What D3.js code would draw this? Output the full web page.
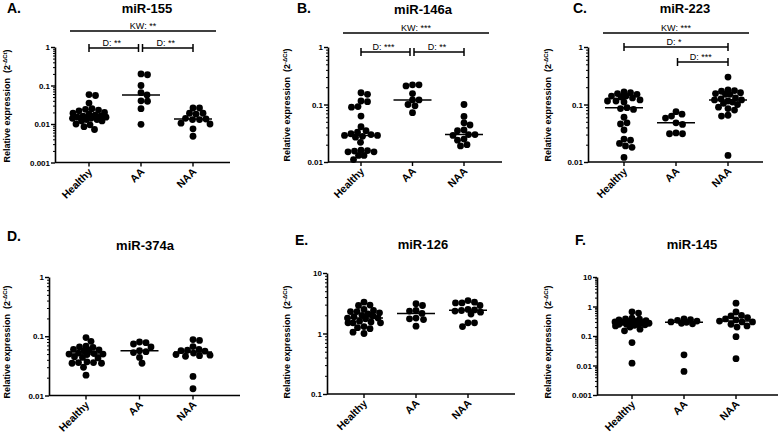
<!DOCTYPE html>
<html lang="en">
<head>
<meta charset="utf-8">
<script src="https://cdn.jsdelivr.net/npm/d3@7"></script>
<style>
  body { margin: 0; background: #fff; }
  svg { font-family: "Liberation Sans", Arial, sans-serif; }
  text { fill: #000; }
</style>
</head>
<body>
<div id="chart"></div>
<script>
const groups = ["Healthy", "AA", "NAA"];

// values (2^-dCt)
const mir155Healthy = [0.058, 0.055, 0.035, 0.025, 0.024, 0.023, 0.022, 0.020, 0.019, 0.018, 0.017, 0.016, 0.016, 0.015, 0.015, 0.014, 0.014, 0.013, 0.013, 0.012, 0.012, 0.010, 0.0095, 0.0085, 0.0072];
const mir155AA = [0.2, 0.19, 0.1, 0.065, 0.057, 0.04, 0.039, 0.025, 0.0098];
const mir155NAA = [0.026, 0.026, 0.019, 0.018, 0.019, 0.013, 0.0135, 0.013, 0.014, 0.0105, 0.010, 0.0075, 0.0048];

const mir146Healthy = [0.16, 0.15, 0.115, 0.112, 0.092, 0.09, 0.063, 0.041, 0.035, 0.033, 0.031, 0.030, 0.029, 0.029, 0.028, 0.027, 0.022, 0.016, 0.0158, 0.0155, 0.015, 0.015, 0.013, 0.013, 0.011];
const mir146AA = [0.22, 0.21, 0.22, 0.155, 0.12, 0.12, 0.1, 0.095, 0.072];
const mir146NAA = [0.1, 0.062, 0.048, 0.044, 0.036, 0.035, 0.030, 0.030, 0.029, 0.025, 0.024, 0.020, 0.019];

const mir223Healthy = [0.165, 0.16, 0.155, 0.15, 0.14, 0.14, 0.135, 0.13, 0.12, 0.115, 0.115, 0.11, 0.088, 0.085, 0.082, 0.06, 0.048, 0.046, 0.036, 0.025, 0.024, 0.021, 0.019, 0.018, 0.012];
const mir223AA = [0.075, 0.068, 0.063, 0.058, 0.048, 0.045, 0.032, 0.031, 0.031];
const mir223NAA = [0.3, 0.18, 0.175, 0.17, 0.16, 0.155, 0.15, 0.15, 0.13, 0.125, 0.12, 0.12, 0.115, 0.11, 0.105, 0.1, 0.09, 0.085, 0.08, 0.065, 0.063, 0.013];

const mir374Healthy = [0.095, 0.082, 0.068, 0.066, 0.065, 0.06, 0.059, 0.058, 0.057, 0.052, 0.051, 0.05, 0.05, 0.049, 0.045, 0.044, 0.043, 0.037, 0.036, 0.036, 0.035, 0.035, 0.030, 0.022];
const mir374AA = [0.08, 0.078, 0.074, 0.066, 0.057, 0.055, 0.053, 0.044, 0.035];
const mir374NAA = [0.088, 0.085, 0.067, 0.06, 0.058, 0.057, 0.056, 0.052, 0.049, 0.048, 0.047, 0.046, 0.021, 0.013];

const mir126Healthy = [3.3, 2.95, 2.9, 2.5, 2.4, 2.3, 2.3, 2.2, 2.1, 2.0, 1.95, 1.9, 1.8, 1.8, 1.75, 1.6, 1.55, 1.5, 1.5, 1.5, 1.3, 1.25, 1.2, 1.05, 1.0];
const mir126AA = [3.1, 2.9, 2.4, 2.35, 2.15, 1.8, 1.75, 1.7, 1.32];
const mir126NAA = [3.5, 3.3, 3.2, 3.2, 2.9, 2.5, 2.45, 2.4, 2.35, 2.25, 2.1, 1.5, 1.5, 1.3];

const mir145Healthy = [0.66, 0.6, 0.4, 0.38, 0.37, 0.35, 0.33, 0.32, 0.31, 0.3, 0.29, 0.28, 0.27, 0.27, 0.26, 0.25, 0.25, 0.24, 0.23, 0.22, 0.2, 0.17, 0.15, 0.06, 0.012];
const mir145AA = [0.38, 0.36, 0.34, 0.32, 0.3, 0.29, 0.27, 0.26, 0.023, 0.0063];
const mir145NAA = [1.3, 0.65, 0.5, 0.48, 0.42, 0.38, 0.35, 0.32, 0.3, 0.3, 0.25, 0.22, 0.2, 0.095, 0.017];

const titles = ["miR-155", "miR-146a", "miR-223", "miR-374a", "miR-126", "miR-145"];
const letters = ["A.", "B.", "C.", "D.", "E.", "F."];
const tickSets = [
  [0.001, 0.01, 0.1, 1],
  [0.01, 0.1, 1],
  [0.01, 0.1, 1],
  [0.01, 0.1, 1],
  [0.1, 1, 10],
  [0.001, 0.01, 0.1, 1, 10]
];
const kwLabels = ["KW: **", "KW: ***", "KW: ***"];
// Dunn's post-tests: panel, from, to, label, level
const dunn = [
  [0, "Healthy", "AA", "D: **", 0],
  [0, "AA", "NAA", "D: **", 0],
  [1, "Healthy", "AA", "D: ***", 0],
  [1, "AA", "NAA", "D: **", 0],
  [2, "Healthy", "NAA", "D: *", 0],
  [2, "AA", "NAA", "D: ***", 1]
];

const series = [
  [mir155Healthy, mir155AA, mir155NAA],
  [mir146Healthy, mir146AA, mir146NAA],
  [mir223Healthy, mir223AA, mir223NAA],
  [mir374Healthy, mir374AA, mir374NAA],
  [mir126Healthy, mir126AA, mir126NAA],
  [mir145Healthy, mir145AA, mir145NAA]
];

// layout of each panel (pixels)
const frames = [
  {x0: 55,  len: 175, cat: [34, 138], yTop: 47,  yBot: 162.5, titleX: 147, titleY: 13,  letterX: 7,   letterY: 13,  labelX: 10,  labelY: 106, kwY: 31, dY: 48},
  {x0: 328, len: 174, cat: [33, 136], yTop: 47,  yBot: 162,   titleX: 423, titleY: 14,  letterX: 297, letterY: 13,  labelX: 290, labelY: 105, kwY: 33, dY: 52},
  {x0: 588, len: 175, cat: [36, 140], yTop: 47,  yBot: 162,   titleX: 685, titleY: 13,  letterX: 573, letterY: 13,  labelX: 551, labelY: 105, kwY: 33, dY: 47},
  {x0: 49,  len: 191, cat: [37, 144], yTop: 277, yBot: 395.5, titleX: 145, titleY: 250, letterX: 7,   letterY: 241, labelX: 10,  labelY: 342, kwY: 0,  dY: 0},
  {x0: 327, len: 188, cat: [37, 141], yTop: 273, yBot: 394,   titleX: 423, titleY: 249, letterX: 295, letterY: 245, labelX: 290, labelY: 342, kwY: 0,  dY: 0},
  {x0: 597, len: 181, cat: [35, 139], yTop: 277, yBot: 395,   titleX: 692, titleY: 249, letterX: 575, letterY: 245, labelX: 551, labelY: 342, kwY: 0,  dY: 0}
];

const width = 779, height = 438;
const r = 3.4;
const maxSpread = 17;

const svg = d3.select("#chart").append("svg")
    .attr("width", width)
    .attr("height", height);

// beeswarm kept inside +-maxSpread; dots overlap when the band is crowded
function swarm(vals, y, cx) {
  const pts = vals.map(v => ({v: v, y: y(v)})).sort((a, b) => a.y - b.y);
  const placed = [];
  const dmin = 2 * r * 0.92;
  const offs = d3.range(-maxSpread, maxSpread + 0.01, 0.5)
      .sort((a, b) => Math.abs(a) - Math.abs(b) || b - a);
  pts.forEach(p => {
    let best = offs[0], bestD = -1;
    for (const off of offs) {
      const x = cx + off;
      const dist = placed.length ? d3.min(placed, q => Math.hypot(q.x - x, q.y - p.y)) : Infinity;
      if (dist >= dmin) { best = off; break; }
      if (dist > bestD + 0.3) { bestD = dist; best = off; }
    }
    p.x = cx + best;
    placed.push(p);
  });
  return placed;
}

function fmt(v) {
  return v >= 1 ? String(v) : String(+v.toPrecision(1));
}

frames.forEach((f, i) => {
  const g = svg.append("g");
  const ticks = tickSets[i];

  const y = d3.scaleLog()
      .domain([ticks[0], ticks[ticks.length - 1]])
      .range([f.yBot, f.yTop]);
  const x = d3.scalePoint()
      .domain(groups)
      .range([f.x0 + f.cat[0], f.x0 + f.cat[1]]);

  // panel letter and title
  g.append("text")
      .attr("x", f.letterX).attr("y", f.letterY)
      .style("font-size", "14px").style("font-weight", "bold")
      .text(letters[i]);
  g.append("text")
      .attr("x", f.titleX).attr("y", f.titleY)
      .attr("text-anchor", "middle")
      .style("font-size", "13px").style("font-weight", "bold")
      .text(titles[i]);

  // y axis with log minor ticks
  const minor = [];
  for (let d = 0; d < ticks.length - 1; d++) {
    for (let m = 2; m <= 9; m++) minor.push(ticks[d] * m);
  }
  g.append("g")
      .attr("transform", `translate(${f.x0},0)`)
      .call(d3.axisLeft(y).tickValues(minor).tickSize(2).tickFormat(""))
      .call(a => a.select(".domain").remove())
      .call(a => a.selectAll("line").attr("stroke", "#000").attr("stroke-width", 1));
  g.append("g")
      .attr("transform", `translate(${f.x0},0)`)
      .call(d3.axisLeft(y).tickValues(ticks).tickSize(4).tickSizeOuter(0).tickPadding(1).tickFormat(fmt))
      .call(a => a.select(".domain").attr("stroke-width", 1.6))
      .call(a => a.selectAll("line").attr("stroke-width", 1.4))
      .call(a => a.selectAll("text")
          .attr("fill", "#000")
          .style("font-size", "8px").style("font-weight", "bold")
          .style("font-family", "'Liberation Sans', Arial, sans-serif"));

  // x axis
  g.append("line")
      .attr("x1", f.x0).attr("x2", f.x0 + f.len)
      .attr("y1", f.yBot).attr("y2", f.yBot)
      .attr("stroke", "#000").attr("stroke-width", 1.6);
  g.append("g").selectAll("line").data(groups).enter().append("line")
      .attr("x1", d => x(d)).attr("x2", d => x(d))
      .attr("y1", f.yBot).attr("y2", f.yBot + 4)
      .attr("stroke", "#000").attr("stroke-width", 1.4);
  g.append("g").selectAll("g").data(groups).enter().append("g")
      .attr("transform", d => `translate(${x(d) + 4},${f.yBot + 10}) rotate(-45)`)
      .append("text")
      .attr("text-anchor", "end")
      .style("font-size", "10.5px").style("font-weight", "bold")
      .text(d => d);

  // y axis title
  const yl = g.append("text")
      .attr("transform", `translate(${f.labelX},${f.labelY}) rotate(-90)`)
      .attr("text-anchor", "middle")
      .style("font-size", "9px").style("font-weight", "bold");
  yl.append("tspan").text("Relative expression\u00a0\u00a0(2");
  yl.append("tspan").attr("dy", -3.5).style("font-size", "6px").text("-\u0394Ct");
  yl.append("tspan").attr("dy", 3.5).text(")");

  // dots and medians
  series[i].forEach((vals, j) => {
    const cx = x(groups[j]);
    const pts = swarm(vals, y, cx);
    g.append("g").selectAll("circle")
        .data(pts)
        .enter().append("circle")
        .attr("cx", d => d.x).attr("cy", d => d.y)
        .attr("r", r).attr("fill", "#000");
    const med = d3.median(vals);
    g.append("line")
        .attr("x1", cx - 19).attr("x2", cx + 19)
        .attr("y1", y(med)).attr("y2", y(med))
        .attr("stroke", "#000").attr("stroke-width", 1.5);
  });

  // Kruskal-Wallis bar
  if (kwLabels[i]) {
    g.append("line")
        .attr("x1", f.x0 + 15).attr("x2", f.x0 + 161)
        .attr("y1", f.kwY).attr("y2", f.kwY)
        .attr("stroke", "#000").attr("stroke-width", 1.5);
    g.append("text")
        .attr("x", f.x0 + 88).attr("y", f.kwY - 2.5)
        .attr("text-anchor", "middle")
        .style("font-size", "9px")
        .text(kwLabels[i]);
  }

  // Dunn brackets
  dunn.filter(d => d[0] === i).forEach(d => {
    let xa1 = x(d[1]), xa2 = x(d[2]);
    if (d[1] === "AA") xa1 += 1.5;
    if (d[2] === "AA") xa2 -= 2.5;
    const by = f.dY + d[4] * 15;
    const b = g.append("g").attr("stroke", "#000").attr("stroke-width", 1.5);
    b.append("line").attr("x1", xa1).attr("x2", xa2).attr("y1", by).attr("y2", by);
    b.append("line").attr("x1", xa1).attr("x2", xa1).attr("y1", by - 4).attr("y2", by + 4);
    b.append("line").attr("x1", xa2).attr("x2", xa2).attr("y1", by - 4).attr("y2", by + 4);
    g.append("text")
        .attr("x", (xa1 + xa2) / 2 - 2).attr("y", by - 2)
        .attr("text-anchor", "middle")
        .style("font-size", "9px")
        .text(d[3]);
  });
});
</script>
</body>
</html>
